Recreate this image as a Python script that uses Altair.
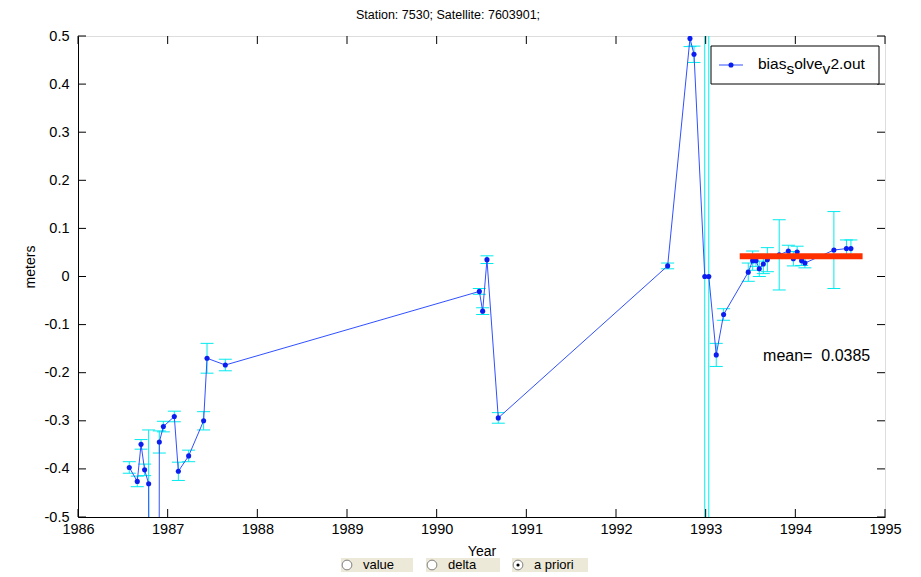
import altair as alt
import pandas as pd

# ---- data ----
years = [1986.572, 1986.661, 1986.703, 1986.743, 1986.788, 1986.80, 1986.90, 1986.907,
         1986.952, 1987.074, 1987.119, 1987.234, 1987.401, 1987.439, 1987.643,
         1990.476, 1990.513, 1990.561, 1990.687, 1992.576, 1992.825, 1992.87,
         1992.99, 1993.035, 1993.118, 1993.20, 1993.475, 1993.524, 1993.561,
         1993.598, 1993.643, 1993.688, 1993.82, 1993.922, 1993.978, 1994.02,
         1994.07, 1994.107, 1994.43, 1994.57, 1994.62]
values = [-0.397, -0.426, -0.349, -0.402, -0.431, -1.3, -1.3, -0.344,
          -0.312, -0.291, -0.405, -0.373, -0.300, -0.170, -0.184,
          -0.031, -0.072, 0.035, -0.294, 0.022, 0.495, 0.462,
          0.0, 0.0, -0.163, -0.079, 0.009, 0.033, 0.033,
          0.016, 0.026, 0.035, 0.045, 0.053, 0.037, 0.051,
          0.033, 0.028, 0.055, 0.058, 0.058]
errors = [0.012, 0.011, 0.010, 0.012, 0.112, 0.0, 0.0, 0.023,
          0.011, 0.011, 0.019, 0.012, 0.019, 0.031, 0.012,
          0.006, 0.007, 0.008, 0.011, 0.006, 0.017, 0.017,
          2.0, 2.0, 0.024, 0.012, 0.019, 0.020, 0.012,
          0.016, 0.020, 0.025, 0.073, 0.012, 0.015, 0.012,
          0.010, 0.010, 0.080, 0.018, 0.018]

mean_value = 0.0385
mean_span = [1993.38, 1994.75]
mean_level = 0.042

x_ticks = [1986, 1987, 1988, 1989, 1990, 1991, 1992, 1993, 1994, 1995]
y_ticks = [-0.5, -0.4, -0.3, -0.2, -0.1, 0.0, 0.1, 0.2, 0.3, 0.4, 0.5]

title_text = "Station: 7530; Satellite: 7603901;"
legend_parts = ["bias", "s", "olve", "v", "2.out"]
radio_labels = ["value", "delta", "a priori"]

# ---- styling ----
W, H = 807, 481
FONT = "Liberation Sans, Arial, sans-serif"
CYAN = "#00EAEE"
BLUE_LINE = "#3050FF"
BLUE_PT = "#0a1eF0"
RED = "#FF3000"

df = pd.DataFrame({"year": years, "value": values, "err": errors})
df["lo"] = df["value"] - df["err"]
df["hi"] = df["value"] + df["err"]
df_err = df[df["err"] > 0]

xs = alt.Scale(domain=[1986, 1995], nice=False, zero=False)
ys = alt.Scale(domain=[-0.5, 0.5], nice=False, zero=False)

x_axis = alt.Axis(values=x_ticks, format="d", title="Year", ticks=False, grid=False,
                  labelPadding=5, labelFont=FONT, labelFontSize=14.5, labelColor="black",
                  domainColor="black", titleFont=FONT, titleFontSize=14,
                  titleFontWeight="normal", titleColor="black", titleY=34,
                  titleBaseline="middle", labelFlush=False, labelOverlap=False)
y_axis = alt.Axis(values=y_ticks,
                  labelExpr="abs(datum.value) < 1e-9 ? '0' : (datum.value < 0 ? '-' : '') + format(abs(datum.value), '.1f')",
                  title="meters", ticks=False, grid=False, labelPadding=9,
                  labelFont=FONT, labelFontSize=14.5, labelColor="black",
                  domainColor="black", titleFont=FONT, titleFontSize=14,
                  titleFontWeight="normal", titleColor="black", titleAngle=270,
                  titleX=-48, titleY=H / 2 - 10, titleAlign="center",
                  titleBaseline="middle", labelFlush=False, labelOverlap=False)

X = alt.X("year:Q", scale=xs, axis=x_axis)
Y = alt.Y("value:Q", scale=ys, axis=y_axis)

base = alt.Chart(df)

err_rule = alt.Chart(df_err).mark_rule(color=CYAN, strokeWidth=1, clip=True).encode(
    x=X, y=alt.Y("lo:Q", scale=ys), y2="hi:Q")
cap_lo = alt.Chart(df_err).mark_tick(orient="horizontal", size=13, thickness=1,
                                     color=CYAN, clip=True, opacity=1).encode(
    x=X, y=alt.Y("lo:Q", scale=ys))
cap_hi = alt.Chart(df_err).mark_tick(orient="horizontal", size=13, thickness=1,
                                     color=CYAN, clip=True, opacity=1).encode(
    x=X, y=alt.Y("hi:Q", scale=ys))
line = base.mark_line(color=BLUE_LINE, strokeWidth=1, clip=True).encode(x=X, y=Y)
pts = base.mark_circle(color=BLUE_PT, size=26, opacity=1, clip=True).encode(x=X, y=Y)

mean_df = pd.DataFrame({"year": [mean_span[0]], "year2": [mean_span[1]],
                        "value": [mean_level]})
mean_rule = alt.Chart(mean_df).mark_rule(color=RED, strokeWidth=6).encode(
    x=X, x2="year2:Q", y=Y)
mean_txt = alt.Chart(pd.DataFrame({"year": [1993.64], "value": [-0.165],
                                   "label": ["mean=\u00a0 " + str(mean_value)]})).mark_text(
    align="left", baseline="middle", font=FONT, fontSize=16, color="black").encode(
    x=X, y=Y, text="label:N")

# inward ticks on all four sides
xt = pd.DataFrame({"year": x_ticks})
yt = pd.DataFrame({"value": y_ticks})
tick_b = alt.Chart(xt).mark_rule(color="black").encode(x=X, y=alt.value(H), y2=alt.value(H - 8))
tick_t = alt.Chart(xt).mark_rule(color="black").encode(x=X, y=alt.value(0), y2=alt.value(8))
tick_l = alt.Chart(yt).mark_rule(color="black").encode(y=Y, x=alt.value(0), x2=alt.value(8))
tick_r = alt.Chart(yt).mark_rule(color="black").encode(y=Y, x=alt.value(W), x2=alt.value(W - 8))

one = pd.DataFrame({"k": [0]})

# title as text above the plot
title_mark = alt.Chart(one).mark_text(
    align="center", baseline="middle", font=FONT, fontSize=12.5, color="black",
    text=title_text).encode(x=alt.value(W / 2 - 33.5), y=alt.value(-21))

# legend box
leg_box = alt.Chart(one).mark_rect(fill="white", stroke="black", strokeWidth=1).encode(
    x=alt.value(633), x2=alt.value(801), y=alt.value(10), y2=alt.value(48))
leg_line = alt.Chart(one).mark_rule(color=BLUE_LINE, strokeWidth=1).encode(
    x=alt.value(641), x2=alt.value(665), y=alt.value(29))
leg_pt = alt.Chart(one).mark_circle(color=BLUE_PT, size=26, opacity=1).encode(
    x=alt.value(653), y=alt.value(29))
leg_x = [680, 708.4, 716.2, 744.6, 752.4]
leg_y = [33, 38, 33, 38, 33]
leg_layers = []
for part, px, py in zip(legend_parts, leg_x, leg_y):
    leg_layers.append(alt.Chart(one).mark_text(
        align="left", baseline="alphabetic", font=FONT, fontSize=15.5, color="black",
        text=part).encode(x=alt.value(px), y=alt.value(py)))

# radio buttons under the axis
box_x = [263, 348, 434]
box_w = [72, 74, 76]
radio_layers = []
for lab, bx, bw in zip(radio_labels, box_x, box_w):
    radio_layers.append(alt.Chart(one).mark_rect(fill="#ECE9D8").encode(
        x=alt.value(bx), x2=alt.value(bx + bw), y=alt.value(522), y2=alt.value(536)))
    radio_layers.append(alt.Chart(one).mark_circle(fill="white", stroke="#808080",
                                                   strokeWidth=1, size=95, opacity=1).encode(
        x=alt.value(bx + 6), y=alt.value(529)))
    radio_layers.append(alt.Chart(one).mark_text(
        align="left", baseline="middle", font=FONT, fontSize=13, color="black",
        text=lab).encode(x=alt.value(bx + 22), y=alt.value(529)))
radio_layers.append(alt.Chart(one).mark_circle(color="black", size=10, opacity=1).encode(
    x=alt.value(434 + 6), y=alt.value(529)))

chart = alt.layer(
    err_rule, cap_lo, cap_hi, line, pts, mean_rule, mean_txt,
    tick_b, tick_t, tick_l, tick_r, title_mark,
    leg_box, leg_line, leg_pt, *leg_layers, *radio_layers
).properties(
    width=W, height=H,
    autosize=alt.AutoSizeParams(type="none"),
    padding={"left": 70, "top": 28, "right": 28, "bottom": 58},
).configure_view(
    stroke="black", strokeWidth=1
).configure(background="white")

chart.save("out.html", embed_options={"renderer": "svg", "actions": False})
